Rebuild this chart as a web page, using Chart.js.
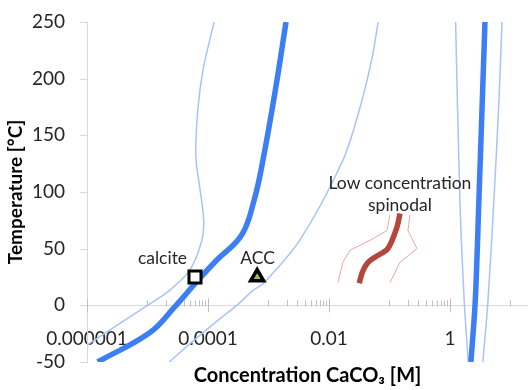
<!DOCTYPE html>
<html>
<head>
<meta charset="utf-8">
<script src="https://cdn.jsdelivr.net/npm/chart.js@4.4.0/dist/chart.umd.min.js"></script>
<style>
  html, body { margin: 0; padding: 0; background: #fff; }
</style>
</head>
<body>
<canvas id="myChart" width="528" height="390"></canvas>
<script>
'use strict';

// tick labels
const xTickValues = [1e-6, 1e-4, 1e-2, 1];
const xTickLabels = ['0.000001', '0.0001', '0.01', '1'];
const yTickValues = [-50, 0, 50, 100, 150, 200, 250];

// solubility curves (concentration [M], temperature [°C])
const calciteConc = [1.5e-6, 1.1e-5, 2.75e-5, 6.8e-5, 1.4e-4, 3.6e-4, 5.8e-4, 8.1e-4, 1.3e-3, 1.95e-3];
const calciteTemp = [-50, -24, -2, 22, 40, 62, 93, 128, 190, 250];

const calciteLowConc = [1e-6, 1.0e-5, 2.3e-5, 5e-5, 7.9e-5, 8.5e-5, 7.4e-5, 6.3e-5, 6.8e-5, 8.3e-5, 1.26e-4];
const calciteLowTemp = [-35, 0, 13, 31, 57, 75, 102, 131, 173, 208, 250];

const calciteHighConc = [2.3e-5, 5e-5, 1.6e-4, 3e-4, 5.5e-4, 8.5e-4, 3.3e-3, 1.7e-2, 3.2e-2, 5.1e-2, 6.5e-2];
const calciteHighTemp = [-50, -34, -11.5, 0, 13, 20, 57.5, 128, 173, 217, 250];

// high concentration spinodal
const spinodalConc = [2.22, 2.62, 3.01, 3.79];
const spinodalTemp = [-50, 4, 93, 250];
const spinodalLowConc = [2.0, 1.72, 1.46, 1.24];
const spinodalLowTemp = [-50, 4, 93, 250];
const spinodalHighConc = [3.5, 4.25, 5.33, 6.46, 7.24];
const spinodalHighTemp = [-50, 4, 93, 181, 250];

// low concentration spinodal
const lowSpinConc = [0.149, 0.133, 0.094, 0.0575, 0.0427, 0.0355, 0.0316];
const lowSpinTemp = [81, 69, 50, 42.5, 37, 29, 19.5];
const lowSpinLeftConc = [0.102, 0.091, 0.048, 0.0224, 0.017, 0.0141];
const lowSpinLeftTemp = [80, 66, 57.5, 48.7, 38, 20];
const lowSpinRightConc = [0.218, 0.202, 0.285, 0.149, 0.102];
const lowSpinRightTemp = [80, 66, 50, 38, 20];

// measured points
const calcitePoint = [{x: 6.1e-5, y: 25}];
const accPoint = [{x: 6.5e-4, y: 25}];

// annotations
const noteTexts = ['calcite', 'ACC', 'Low concentration', 'spinodal'];
const noteConc = [1.77e-5, 6.6e-4, 0.149, 0.149];
const noteTemp = [41.6, 41.6, 108, 88.5];

const xTitle = 'Concentration CaCO\u2083 [M]';

const FONT = 'Lato, "Open Sans", sans-serif';
const thickBlue = '#3d7ef5';
const thinBlue = '#a9c3f7';
const axisGray = '#d9d9d9';

function pts(xs, ys) {
	return xs.map((x, i) => ({x: x, y: ys[i]}));
}

function curve(xs, ys, color, width, tension) {
	return {
		type: 'line',
		data: pts(xs, ys),
		borderColor: color,
		borderWidth: width,
		pointRadius: 0,
		tension: tension,
		fill: false,
		order: 2,
	};
}

// tick marks, x axis title and text notes
const extras = {
	id: 'extras',
	beforeDatasetsDraw(chart) {
		const {ctx, chartArea, scales: {x, y}} = chart;
		const y0 = y.getPixelForValue(0);
		ctx.save();
		ctx.lineWidth = 1;
		// y tick marks
		ctx.strokeStyle = axisGray;
		yTickValues.forEach(v => {
			const py = Math.round(y.getPixelForValue(v)) + 0.5;
			ctx.beginPath();
			ctx.moveTo(chartArea.left - 7, py);
			ctx.lineTo(chartArea.left, py);
			ctx.stroke();
		});
		// x tick marks (major + minor)
		ctx.strokeStyle = '#bfbfbf';
		xTickValues.forEach(m => {
			const px = Math.round(x.getPixelForValue(m)) + 0.5;
			ctx.beginPath();
			ctx.moveTo(px, y0 - 7);
			ctx.lineTo(px, y0 + 7);
			ctx.stroke();
			for (let k = 1; k <= 9; k++) {
				const v = k * 10 * m;
				if (v > x.max) break;
				const p = Math.round(x.getPixelForValue(v)) + 0.5;
				ctx.beginPath();
				ctx.moveTo(p, y0 - 5);
				ctx.lineTo(p, y0 + 1);
				ctx.stroke();
			}
		});
		ctx.restore();
	},
	afterDatasetsDraw(chart) {
		const {ctx, chartArea, scales: {x, y}} = chart;
		ctx.save();
		ctx.font = '17.5px ' + FONT;
		ctx.fillStyle = '#262626';
		ctx.textAlign = 'center';
		ctx.textBaseline = 'middle';
		noteTexts.forEach((t, i) => {
			ctx.fillText(t, x.getPixelForValue(noteConc[i]), y.getPixelForValue(noteTemp[i]));
		});
		ctx.font = 'bold 20px ' + FONT;
		ctx.fillStyle = '#000';
		ctx.fillText(xTitle, (chartArea.left + chartArea.right) / 2, chartArea.bottom + 14);
		ctx.restore();
	}
};

const ctx = document.getElementById('myChart');

new Chart(ctx, {
	data: {
		datasets: [
			{
				type: 'scatter',
				data: calcitePoint,
				pointStyle: 'rect',
				pointRadius: 8.5,
				backgroundColor: '#ffffff',
				borderColor: '#000000',
				borderWidth: 3,
				order: 0,
			},
			{
				type: 'scatter',
				data: accPoint,
				pointStyle: 'triangle',
				pointRadius: 7.5,
				backgroundColor: '#9bbb59',
				borderColor: '#000000',
				borderWidth: 3.5,
				order: 0,
			},
			curve(calciteConc, calciteTemp, thickBlue, 5.5, 0.4),
			curve(calciteLowConc, calciteLowTemp, thinBlue, 1.5, 0.3),
			curve(calciteHighConc, calciteHighTemp, thinBlue, 1.5, 0.3),
			curve(spinodalConc, spinodalTemp, thickBlue, 5.5, 0.3),
			curve(spinodalLowConc, spinodalLowTemp, thinBlue, 1.5, 0.3),
			curve(spinodalHighConc, spinodalHighTemp, thinBlue, 1.5, 0.3),
			curve(lowSpinConc, lowSpinTemp, '#b5463b', 5.5, 0.3),
			curve(lowSpinLeftConc, lowSpinLeftTemp, '#e9a79f', 1, 0),
			curve(lowSpinRightConc, lowSpinRightTemp, '#e9a79f', 1, 0),
		]
	},
	options: {
		responsive: false,
		animation: false,
		layout: {autoPadding: false, padding: {top: 22, right: 0, bottom: 28, left: 0}},
		plugins: {
			legend: {display: false},
			tooltip: {enabled: false},
		},
		scales: {
			x: {
				type: 'logarithmic',
				position: {y: 0},
				bounds: 'data',
				min: 1e-6,
				max: 19.5,
				afterBuildTicks: s => {
					s.min = 1e-6;
					s.max = 19.5;
					s.ticks = xTickValues.map(v => ({value: v}));
				},
				afterFit: s => { s.paddingRight = 0; s.paddingLeft = 0; },
				ticks: {
					autoSkip: false,
					maxRotation: 0,
					padding: 22,
					color: '#262626',
					font: {family: FONT, size: 19},
					callback: (v, i) => xTickLabels[i],
				},
				grid: {drawOnChartArea: false, drawTicks: false},
				border: {color: axisGray},
			},
			y: {
				min: -50,
				max: 250,
				afterBuildTicks: s => { s.ticks = yTickValues.map(v => ({value: v})); },
				afterFit: s => { s.width = 87; },
				ticks: {
					padding: 4,
					color: '#262626',
					font: {family: FONT, size: 19},
				},
				grid: {drawOnChartArea: false, tickLength: 18, tickColor: 'rgba(0,0,0,0)'},
				border: {color: axisGray},
				title: {
					display: true,
					text: 'Temperature [°C]',
					color: '#000',
					font: {family: FONT, size: 19, weight: 'bold'},
					padding: {top: 4, bottom: 0},
				},
			},
		},
	},
	plugins: [extras],
});
</script>
</body>
</html>
